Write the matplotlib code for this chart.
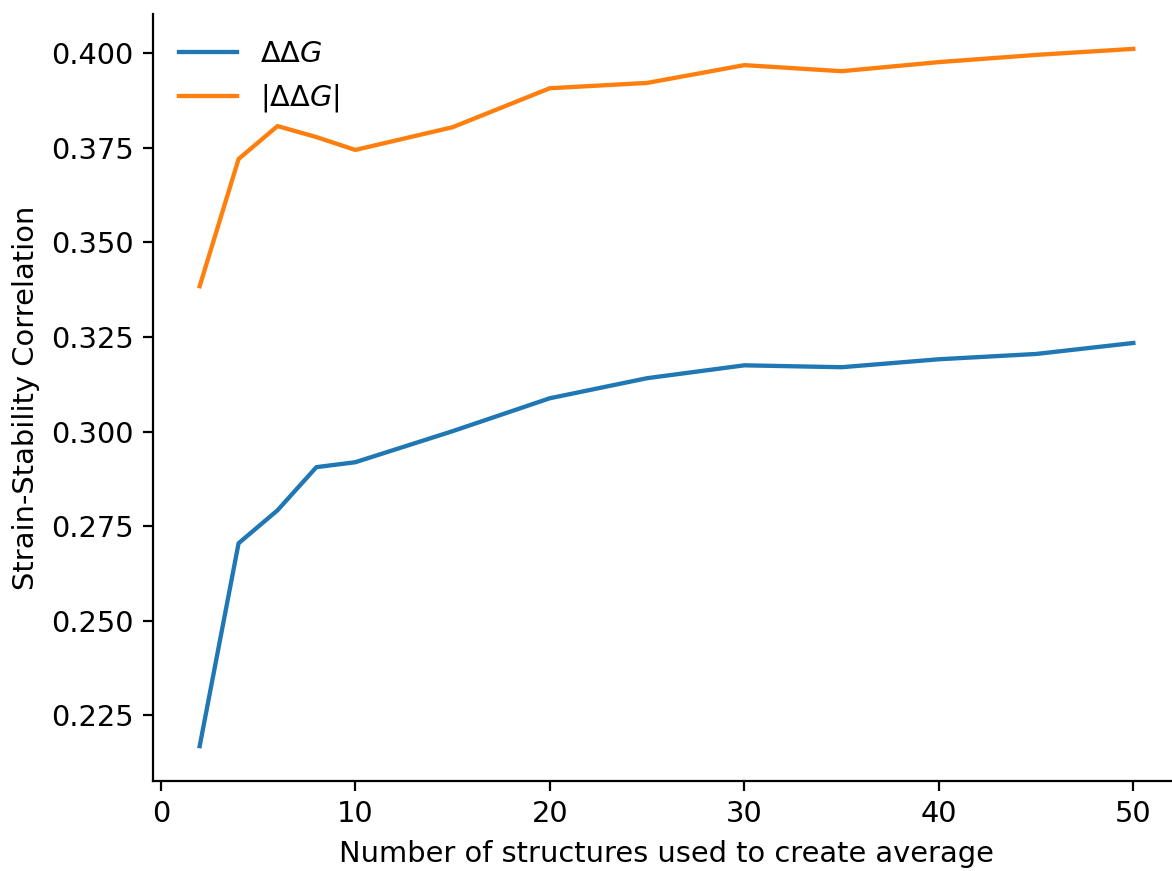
import matplotlib
matplotlib.use("Agg")
import matplotlib.pyplot as plt

n_structures = [2, 4, 6, 8, 10, 15, 20, 25, 30, 35, 40, 45, 50]
ddg = [0.2169, 0.2705, 0.2792, 0.2906, 0.2919, 0.3001, 0.3088, 0.3141,
       0.3175, 0.3170, 0.3191, 0.3205, 0.3234]
abs_ddg = [0.3384, 0.3720, 0.3807, 0.3778, 0.3744, 0.3804, 0.3907, 0.3921,
           0.3968, 0.3952, 0.3976, 0.3995, 0.4011]

plt.rcParams["font.size"] = 10.4

fig = plt.figure(figsize=(5.86, 4.355), dpi=200)
# axes extends a little past the right edge, as in the original crop
ax = fig.add_axes([153 / 1172, 90 / 871, 1027 / 1172, 767 / 871])

ax.plot(n_structures, ddg, color="#1f77b4", lw=1.55, label=r"$\Delta\Delta G$")
ax.plot(n_structures, abs_ddg, color="#ff7f0e", lw=1.55, label=r"$|\Delta\Delta G|$")

ax.set_xlabel("Number of structures used to create average")
ax.set_ylabel("Strain-Stability Correlation")
ax.spines["top"].set_visible(False)
ax.spines["right"].set_visible(False)
ax.legend(frameon=False, loc="upper left")

fig.savefig("out.png", dpi=200)
